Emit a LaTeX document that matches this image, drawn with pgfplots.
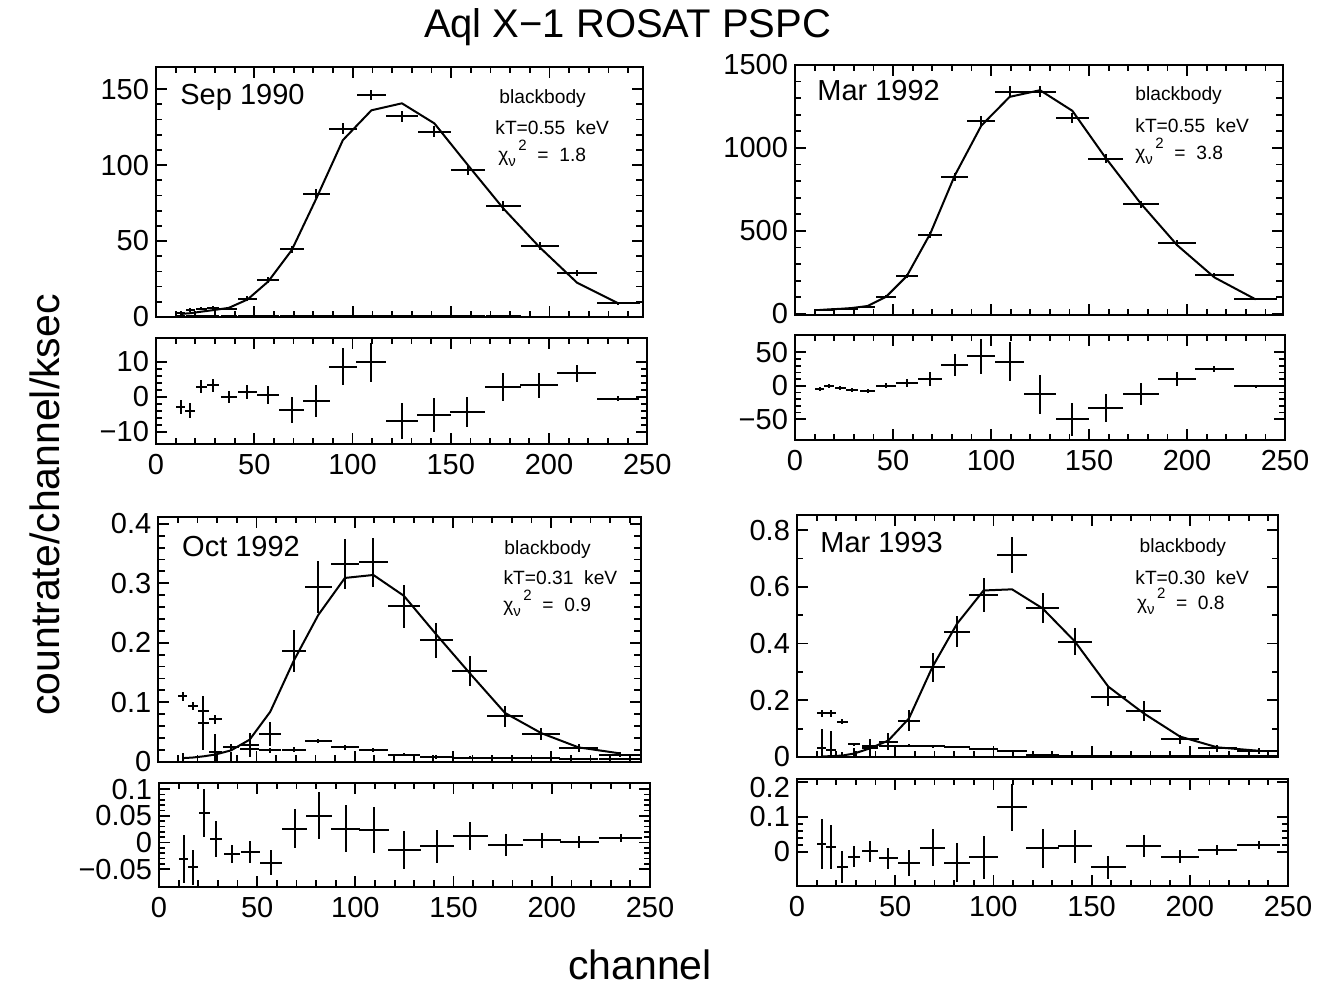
\documentclass[border=0pt]{standalone}
\usepackage{fontspec}
\setmainfont{Liberation Sans}
\usepackage{pgfplots}
\usepackage{pgfplotstable}
\pgfplotsset{compat=1.18}

% c = channel, hw = half bin width, d/ed = data, m = model, b/eb = background, r/er = residual
\pgfplotstableread{
c hw d ed m b eb r er
12.5 2.3 2.5 1.2 2.0 0.8 0.5 -2.9 2.1
17.5 2.5 4.5 1.2 2.5 0.8 0.5 -4.0 2.1
23 2.8 5.5 1.2 3.5 0.9 0.5 2.9 1.9
29 3.2 6.0 1.2 4.5 0.9 0.5 3.3 1.9
37 4.0 5.5 1.2 6.0 0.8 0.4 0.0 1.7
46.5 5.0 12.0 1.5 11.5 0.8 0.4 1.4 2.1
57 5.7 24.3 2.0 23.3 0.7 0.4 0.5 2.7
69 6.2 44.5 2.5 44.0 0.7 0.4 -3.8 3.6
81.5 6.8 81.0 3.0 78.0 0.6 0.3 -1.2 4.6
95 7.2 124.0 3.5 116.4 0.6 0.3 8.6 5.2
109.5 7.5 146.0 3.5 136.0 0.6 0.3 9.8 5.7
125 8.2 132.0 3.5 140.6 0.5 0.3 -6.9 5.2
141.5 8.5 122.0 3.5 127.4 0.5 0.3 -5.2 4.8
158.5 8.8 96.7 3.0 100.0 0.4 0.2 -4.3 4.3
176.5 9.0 73.0 3.0 71.5 0.4 0.2 2.9 4.0
195 9.6 46.7 2.5 45.9 0.3 0.2 3.3 3.6
214 10.0 29.2 2.0 22.6 0.3 0.2 6.7 2.4
235 10.8 9.0 1.0 9.0 0.3 0.2 -0.5 0.8
}\sepd

\pgfplotstableread{
c hw d ed m r er
12.5 2.3 24 6 24 -5 3
17.5 2.5 26 6 28 0 3
23 2.8 28 6 31 -3.5 3
29 3.2 30 6 36 -6 3
37 4.0 45 8 48 -7.5 3
46.5 5.0 104 10 104 0 4
57 5.7 228 14 228 4 6
69 6.2 474 18 484 10 10
81.5 6.8 824 24 834 31 17
95 7.2 1164 30 1134 44 26
109.5 7.5 1340 32 1308 36 29
125 8.2 1340 32 1348 -12.5 29
141.5 8.5 1180 30 1224 -50 25
158.5 8.8 935 26 940 -33 21
176.5 9.0 660 22 664 -12.5 16
195 9.6 428 16 414 10 11
214 10.0 234 12 220 25 5
235 10.8 88 6 88 -1 2
}\marbb

\pgfplotstableread{
c hw d ed m b eb r er
12.5 2.3 -0.03 0.045 0.006 0.110 0.008 -0.032 0.045
17.5 2.5 -0.043 0.032 0.007 0.094 0.007 -0.047 0.032
23 2.8 0.065 0.045 0.009 0.086 0.007 0.056 0.045
29 3.2 0.016 0.030 0.012 0.071 0.007 0.006 0.034
37 4.0 0.000 0.017 0.019 0.024 0.005 -0.021 0.017
46.5 5.0 0.028 0.020 0.037 0.021 0.005 -0.018 0.021
57 5.7 0.047 0.020 0.084 0.019 0.004 -0.038 0.023
69 6.2 0.186 0.036 0.170 0.020 0.004 0.026 0.037
81.5 6.8 0.294 0.044 0.247 0.035 0.004 0.050 0.044
95 7.2 0.332 0.042 0.309 0.024 0.004 0.026 0.044
109.5 7.5 0.335 0.041 0.314 0.020 0.003 0.023 0.043
125 8.2 0.261 0.036 0.279 0.012 0.003 -0.014 0.036
141.5 8.5 0.204 0.030 0.214 0.008 0.003 -0.007 0.031
158.5 8.8 0.152 0.025 0.149 0.007 0.002 0.012 0.027
176.5 9.0 0.076 0.017 0.082 0.006 0.002 -0.005 0.020
195 9.6 0.047 0.010 0.048 0.006 0.002 0.004 0.014
214 10.0 0.023 0.006 0.024 0.005 0.002 0.001 0.011
235 10.8 0.012 0.004 0.014 0.005 0.002 0.008 0.008
}\octd

\pgfplotstableread{
c hw d ed m b eb r er
12.5 2.3 0.03 0.070 0.002 0.154 0.012 0.022 0.071
17.5 2.5 0.025 0.065 0.003 0.154 0.012 0.014 0.063
23 2.8 -0.03 0.046 0.005 0.125 0.010 -0.043 0.046
29 3.2 0.000 0.030 0.012 0.045 0.006 -0.014 0.030
37 4.0 0.032 0.030 0.030 0.038 0.005 0.002 0.030
46.5 5.0 0.054 0.030 0.058 0.040 0.005 -0.019 0.030
57 5.7 0.128 0.038 0.136 0.040 0.005 -0.033 0.037
69 6.2 0.316 0.051 0.318 0.037 0.005 0.012 0.052
81.5 6.8 0.442 0.056 0.470 0.035 0.005 -0.031 0.057
95 7.2 0.571 0.059 0.587 0.027 0.004 -0.016 0.062
109.5 7.5 0.712 0.065 0.591 0.022 0.004 0.127 0.067
125 8.2 0.524 0.053 0.524 0.006 0.003 0.0095 0.056
141.5 8.5 0.407 0.047 0.407 0.004 0.003 0.016 0.047
158.5 8.8 0.213 0.035 0.248 0.003 0.002 -0.045 0.034
176.5 9.0 0.163 0.035 0.154 0.003 0.002 0.016 0.032
195 9.6 0.062 0.015 0.072 0.003 0.002 -0.014 0.018
214 10.0 0.031 0.012 0.034 0.004 0.002 0.005 0.014
235 10.8 0.022 0.010 0.022 0.004 0.002 0.019 0.012
}\marcc

\pgfplotsset{
  panel/.style={scale only axis, anchor=south west, xmin=0,
    tick align=inside, xtick pos=both, ytick pos=both,
    xtick={0,50,100,150,200,250}, minor x tick num=4,
    major tick length=5.5pt, minor tick length=3.2pt,
    tick style={black, line width=0.9pt},
    axis line style={line width=1pt},
    tick label style={font=\fontsize{14.5}{16}\selectfont},
    xticklabel style={yshift=-1.5pt},
    scaled ticks=false},
  main/.style={panel, xticklabels={}},
  res/.style={panel, xmax=250, xticklabels={0,50,100,150,200,250}},
  dat/.style={black, only marks, mark=*, mark size=0pt,
    error bars/.cd, x dir=both, x explicit, y dir=both, y explicit,
    error mark=none, error bar style={line width=1pt, black}},
  mdl/.style={black, no markers, line width=1pt},
}

\begin{document}
\begin{tikzpicture}
\path (0,0) rectangle (665pt,493pt);

% Sep 1990
\begin{axis}[main, at={(78pt,334.5pt)}, width=243.35pt, height=125.15pt,
  xmax=247.4, ymin=0, ymax=164.7, ytick={0,50,100,150}, yticklabels={0,50,100,150}, minor y tick num=4]
\addplot[dat] table[x=c, y=b, x error=hw, y error=eb] {\sepd};
\addplot[dat] table[x=c, y=d, x error=hw, y error=ed] {\sepd};
\addplot[mdl] table[x=c, y=m] {\sepd};
\end{axis}
\begin{axis}[res, at={(78pt,271pt)}, width=245.65pt, height=53pt,
  ymin=-13.5, ymax=16.8, ytick={-10,0,10}, yticklabels={−10,0,10}, minor y tick num=4]
\addplot[dat] table[x=c, y=r, x error=hw, y error=er] {\sepd};
\end{axis}

% Mar 1992
\begin{axis}[main, at={(397.5pt,335.5pt)}, width=243.85pt, height=125pt,
  xmax=248.8, ymin=-6, ymax=1500, ytick={0,500,1000,1500}, yticklabels={0,500,1000,1500}, minor y tick num=4]
\addplot[dat] table[x=c, y=d, x error=hw, y error=ed] {\marbb};
\addplot[mdl] table[x=c, y=m] {\marbb};
\end{axis}
\begin{axis}[res, at={(397.5pt,273pt)}, width=245pt, height=52.5pt,
  ymin=-81, ymax=76, ytick={-50,0,50}, yticklabels={−50,0,50}, minor y tick num=4]
\addplot[dat] table[x=c, y=r, x error=hw, y error=er] {\marbb};
\end{axis}

% Oct 1992
\begin{axis}[main, at={(79.15pt,112.15pt)}, width=241.2pt, height=122.5pt,
  xmax=245.6, ymin=0, ymax=0.412, ytick={0,0.1,0.2,0.3,0.4}, yticklabels={0,0.1,0.2,0.3,0.4}, minor y tick num=4]
\addplot[dat] table[x=c, y=b, x error=hw, y error=eb] {\octd};
\addplot[dat] table[x=c, y=d, x error=hw, y error=ed] {\octd};
\addplot[mdl] table[x=c, y=m] {\octd};
\end{axis}
\begin{axis}[res, at={(79.5pt,49.65pt)}, width=245.5pt, height=52pt,
  ymin=-0.083, ymax=0.112, ytick={-0.05,0,0.05,0.1}, yticklabels={−0.05,0,0.05,0.1}, minor y tick num=4]
\addplot[dat] table[x=c, y=r, x error=hw, y error=er] {\octd};
\end{axis}

% Mar 1993
\begin{axis}[main, at={(398.5pt,114.5pt)}, width=240.5pt, height=121pt,
  xmax=244.9, ymin=0, ymax=0.853, ytick={0,0.2,0.4,0.6,0.8}, yticklabels={0,0.2,0.4,0.6,0.8}, minor y tick num=1]
\addplot[dat] table[x=c, y=b, x error=hw, y error=eb] {\marcc};
\addplot[dat] table[x=c, y=d, x error=hw, y error=ed] {\marcc};
\addplot[mdl] table[x=c, y=m] {\marcc};
\end{axis}
\begin{axis}[res, at={(398.5pt,50pt)}, width=245.5pt, height=53.5pt,
  ymin=-0.098, ymax=0.208, ytick={0,0.1}, yticklabels={0,0.1}, minor y tick num=4,
  extra y ticks={0.2}, extra y tick labels={0.2},
  extra y tick style={yticklabel style={yshift=-3pt}}]
\addplot[dat] table[x=c, y=r, x error=hw, y error=er] {\marcc};
\end{axis}

% annotations
\tikzset{big/.style={anchor=base west, inner sep=0pt, font=\fontsize{14.5}{16}\selectfont},
  sm/.style={anchor=base west, inner sep=0pt, font=\fontsize{9.6}{11}\selectfont}}
\node[big] at (90pt,440.5pt) {Sep 1990};
\node[sm] at (249.5pt,441.4pt) {blackbody};
\node[sm] at (247.5pt,425.5pt) {kT=0.55\ \ keV};
\node[sm] at (249pt,412.2pt) {χ\raisebox{-0.5ex}{\fontsize{7.5}{8}\selectfont ν}\raisebox{1.1ex}{\fontsize{7.5}{8}\selectfont\,2}\ \ =\ \ 1.8};

\node[big] at (408.5pt,442.6pt) {Mar 1992};
\node[sm] at (567.5pt,442.6pt) {blackbody};
\node[sm] at (567.5pt,426.6pt) {kT=0.55\ \ keV};
\node[sm] at (567.5pt,413.4pt) {χ\raisebox{-0.5ex}{\fontsize{7.5}{8}\selectfont ν}\raisebox{1.1ex}{\fontsize{7.5}{8}\selectfont\,2}\ \ =\ \ 3.8};

\node[big] at (90.9pt,214.6pt) {Oct 1992};
\node[sm] at (252pt,215.5pt) {blackbody};
\node[sm] at (251.6pt,200.5pt) {kT=0.31\ \ keV};
\node[sm] at (251.5pt,187.2pt) {χ\raisebox{-0.5ex}{\fontsize{7.5}{8}\selectfont ν}\raisebox{1.1ex}{\fontsize{7.5}{8}\selectfont\,2}\ \ =\ \ 0.9};

\node[big] at (410pt,216.6pt) {Mar 1993};
\node[sm] at (569.6pt,216.6pt) {blackbody};
\node[sm] at (567.5pt,200.5pt) {kT=0.30\ \ keV};
\node[sm] at (568.3pt,188.4pt) {χ\raisebox{-0.5ex}{\fontsize{7.5}{8}\selectfont ν}\raisebox{1.1ex}{\fontsize{7.5}{8}\selectfont\,2}\ \ =\ \ 0.8};

% titles
\node[anchor=base, font=\fontsize{20}{24}\selectfont] at (313.8pt,474pt) {Aql X−1 ROSAT PSPC};
\node[anchor=base, rotate=90, font=\fontsize{20.5}{24}\selectfont] at (30pt,240.5pt) {countrate/channel/ksec};
\node[anchor=base, font=\fontsize{20.5}{24}\selectfont] at (320pt,3pt) {channel};
\end{tikzpicture}
\end{document}
